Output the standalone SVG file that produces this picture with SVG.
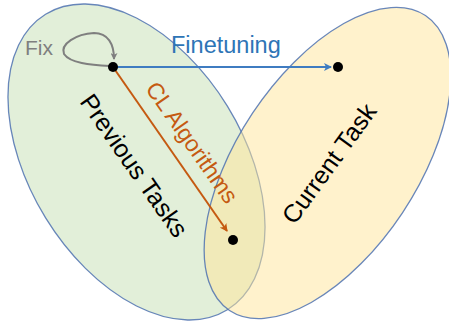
<svg xmlns="http://www.w3.org/2000/svg" width="449" height="321" viewBox="0 0 449 321">
<style>
.set{stroke:#4F72B0;stroke-width:1.3;stroke-opacity:0.85}
.lbl{font-family:"Liberation Sans",Arial,sans-serif}
.dot{fill:#000}
</style>
<defs>
<marker id="ab" markerWidth="8" markerHeight="8" refX="7" refY="4" orient="auto" markerUnits="userSpaceOnUse"><path d="M0,0 L8,4 L0,8 L2,4 Z" fill="#3F7CC1"/></marker>
<marker id="ao" markerWidth="8" markerHeight="8" refX="7" refY="4" orient="auto" markerUnits="userSpaceOnUse"><path d="M0,0 L8,4 L0,8 L2,4 Z" fill="#C55A11"/></marker>
<marker id="ag" markerWidth="7" markerHeight="7" refX="6" refY="3.5" orient="auto" markerUnits="userSpaceOnUse"><path d="M0,0 L7,3.5 L0,7 L1.8,3.5 Z" fill="#7F7F7F"/></marker>
</defs>
<rect width="449" height="321" fill="#fff"/>
<g id="previous">
<ellipse class="set" cx="136.5" cy="162" rx="173.5" ry="106.7" transform="rotate(58.4 136.5 162)" fill="#C5E0B4" fill-opacity="0.5"/>
<text class="lbl" font-size="25" fill="#000" text-anchor="middle" transform="translate(127 170.5) rotate(55)">Previous Tasks</text>
</g>
<g id="current">
<ellipse class="set" cx="327.5" cy="163" rx="177" ry="90" transform="rotate(-56.4 327.5 163)" fill="#FFE699" fill-opacity="0.5"/>
<text class="lbl" font-size="25" fill="#000" text-anchor="middle" transform="translate(336 168.6) rotate(-54)">Current Task</text>
</g>
<g id="connectors">
<path d="M113,67 L331,67" stroke="#3F7CC1" stroke-width="2" fill="none" marker-end="url(#ab)"/>
<path d="M113,67 L227,231" stroke="#C55A11" stroke-width="2" fill="none" marker-end="url(#ao)"/>
<path d="M110,66 C90,65 70,63 64,54 C60,44 76,34 94,33 C108,33 114,44 114,59" stroke="#7F7F7F" stroke-width="2" fill="none" marker-end="url(#ag)"/>
<text class="lbl" font-size="21" fill="#7F7F7F" x="25" y="55">Fix</text>
<text class="lbl" font-size="23.5" fill="#2E75B6" x="171" y="53">Finetuning</text>
<text class="lbl" font-size="23" fill="#C55A11" text-anchor="middle" transform="translate(185.5 147) rotate(55)">CL Algorithms</text>
</g>
<g id="n1"><circle class="dot" cx="113" cy="67" r="5"/></g>
<g id="n2"><circle class="dot" cx="338" cy="67" r="5"/></g>
<g id="n3"><circle class="dot" cx="233" cy="240" r="5"/></g>
</svg>
